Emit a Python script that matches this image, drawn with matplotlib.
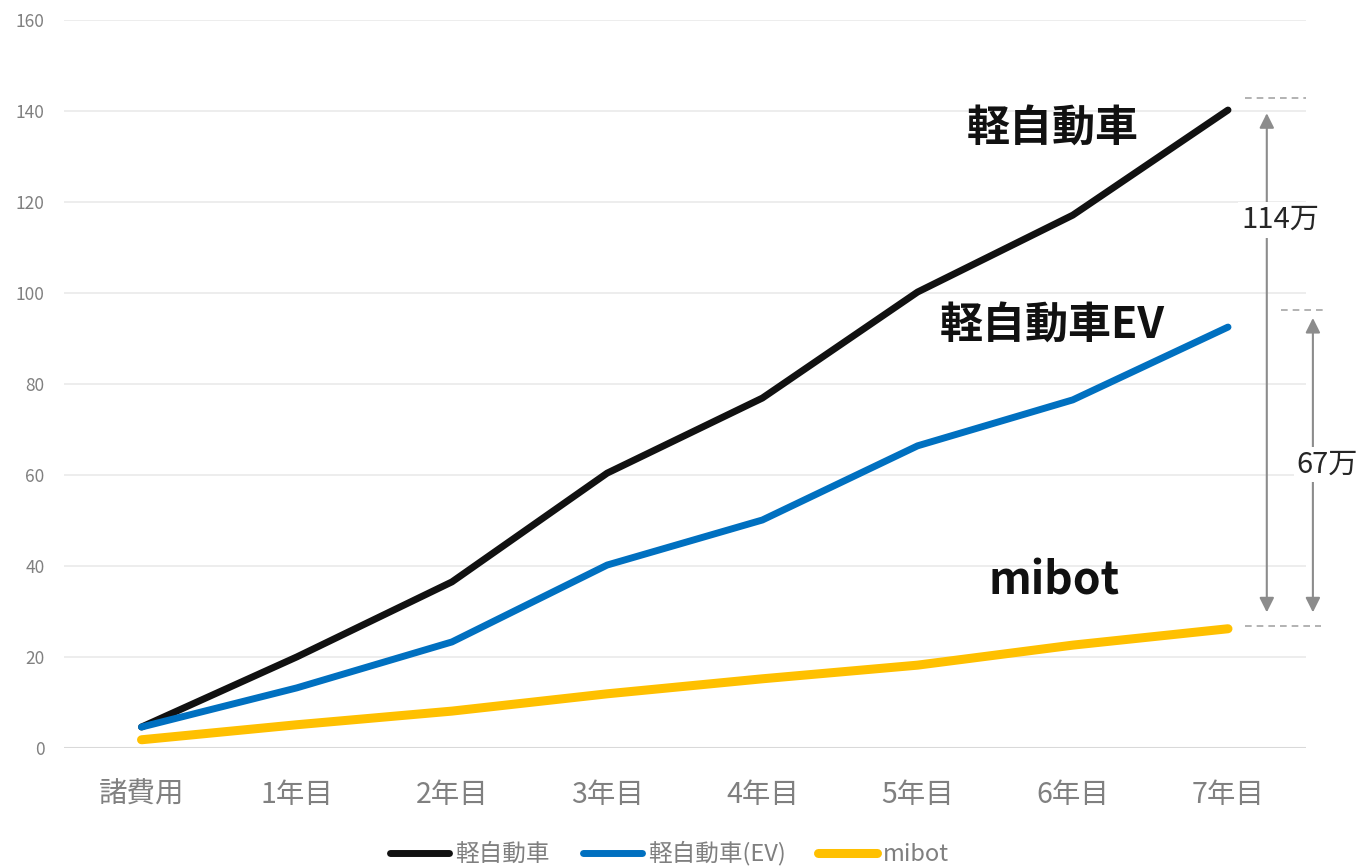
import matplotlib.pyplot as plt
import numpy as np

plt.rcParams['font.family'] = ['Noto Sans CJK JP', 'DejaVu Sans']

categories = ['諸費用', '1年目', '2年目', '3年目', '4年目', '5年目', '6年目', '7年目']
kei = [4.6, 20.0, 36.5, 60.4, 76.9, 100.2, 117.1, 140.2]
kei_ev = [4.6, 13.2, 23.3, 40.2, 50.1, 66.4, 76.5, 92.5]
mibot = [1.8, 5.1, 8.1, 11.9, 15.2, 18.2, 22.6, 26.2]
yticks = [0, 20, 40, 60, 80, 100, 120, 140, 160]

fig = plt.figure(figsize=(13.6, 8.67), dpi=100)
ax = fig.add_axes([0.047, 0.1373, 0.913, 0.8397])
x = np.arange(len(categories))

ax.plot(x, kei, color='#111111', lw=5, solid_capstyle='round', label='軽自動車', zorder=3)
ax.plot(x, kei_ev, color='#0070c0', lw=5, solid_capstyle='round', label='軽自動車(EV)', zorder=3)
ax.plot(x, mibot, color='#ffc000', lw=6.5, solid_capstyle='round', label='mibot', zorder=3)

ax.set_xlim(-0.5, 7.5)
ax.set_ylim(0, 160)
ax.set_yticks(yticks)
ax.set_xticks(x)
ax.set_xticklabels(categories)
ax.tick_params(axis='y', length=0, pad=14, labelsize=12.5, labelcolor='#808080')
ax.tick_params(axis='x', length=0, pad=23, labelsize=20.5, labelcolor='#808080')
for s in ax.spines.values():
    s.set_visible(False)
ax.grid(axis='y', color='#ececec', lw=1.3)
ax.axhline(0, color='#d9d9d9', lw=1.5, zorder=2)

# series labels
ax.text(5.87, 136.3, '軽自動車', fontsize=31, fontweight='bold', color='#111111', ha='center', va='center')
ax.text(5.87, 93, '軽自動車EV', fontsize=31, fontweight='bold', color='#111111', ha='center', va='center')
ax.text(5.88, 36.5, 'mibot', fontsize=32, fontweight='bold', color='#111111', ha='center', va='center')

# difference annotations
dash = dict(color='#a6a6a6', lw=1.2, ls=(0, (4, 3)), clip_on=False)
ax.plot([7.11, 7.5], [142.9, 142.9], **dash)
ax.plot([7.34, 7.62], [96.3, 96.3], **dash)
ax.plot([7.11, 7.6], [26.8, 26.8], **dash)

arr = dict(arrowstyle='<|-|>', color='#8c8c8c', lw=1.5, mutation_scale=22, shrinkA=0, shrinkB=0)
ax.annotate('', xy=(7.25, 139.5), xytext=(7.25, 29.8), arrowprops=arr, annotation_clip=False)
ax.annotate('', xy=(7.547, 94.5), xytext=(7.547, 29.8), arrowprops=arr, annotation_clip=False)
ax.text(7.335, 116.0, '114万', fontsize=21, color='#262626', ha='center', va='center',
        bbox=dict(facecolor='white', edgecolor='none', pad=2), clip_on=False)
ax.text(7.64, 62.3, '67万', fontsize=21, color='#262626', ha='center', va='center',
        bbox=dict(facecolor='white', edgecolor='none', pad=2), clip_on=False)

leg = ax.legend(loc='center', bbox_to_anchor=(0.488, -0.145), ncol=3, frameon=False,
                fontsize=17, handlelength=2.5, handletextpad=0.25, columnspacing=1.4)
for t in leg.get_texts():
    t.set_color('#7f7f7f')

fig.savefig('out.png', dpi=100)
